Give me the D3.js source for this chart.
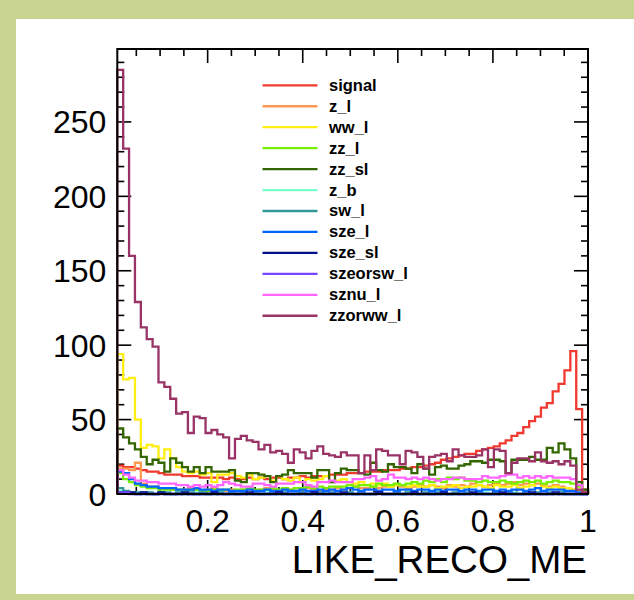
<!DOCTYPE html>
<html>
<head>
<meta charset="utf-8">
<script src="https://cdn.jsdelivr.net/npm/d3@7"></script>
<style>
  body { margin: 0; padding: 0; background: #cbd393; }
  svg { display: block; }
</style>
</head>
<body>
<svg id="chart"></svg>
<script>
// Histogram binning (80 bins from 0.01 to 1)
const xMin = 0.01, xMax = 1, nBins = 80;

// Series names (legend order = draw order)
const seriesNames = ["signal", "z_l", "ww_l", "zz_l", "zz_sl", "z_b", "sw_l", "sze_l", "sze_sl", "szeorsw_l", "sznu_l", "zzorww_l"];
const seriesColors = ["#f03a30", "#ff9950", "#ffee11", "#77ee00", "#336600", "#77ffcc", "#339999", "#0066ff", "#001188", "#7744ff", "#ff66ff", "#993366"];

// Bin contents
const signal = [19, 18, 18, 17, 16, 15, 15, 14, 13, 13, 13, 12, 12, 12, 11, 11, 11, 11, 10, 11,
  10, 10, 11, 10, 11, 10, 11, 11, 10, 11, 11, 12, 11, 12, 12, 12, 13, 13, 13, 14, 14, 14, 15, 15, 15, 16, 16, 16, 17, 17,
  18, 18, 19, 20, 21, 23, 24, 25, 26, 27, 27, 29, 30, 31, 32, 34, 36, 39, 41, 45, 49, 52, 58, 61, 69, 74, 83, 96, 57, 3];
const z_l = [17, 17, 16, 21, 7, 5, 5, 4, 4, 3, 3, 3, 4, 3, 2, 3, 4, 3, 2, 3,
  2, 3, 3, 2, 3, 4, 3, 2, 3, 3, 4, 3, 4, 3, 2, 3, 3, 4, 3, 4, 5, 4, 4, 5, 4, 5, 5, 6, 5, 4,
  5, 6, 5, 6, 5, 4, 6, 5, 6, 5, 7, 6, 5, 6, 7, 6, 7, 8, 6, 7, 6, 7, 6, 5, 6, 5, 4, 3, 2, 1];
const ww_l = [94, 77, 78, 50, 31, 33, 32, 24, 30, 24, 18, 15, 14, 15, 13, 14, 8, 13, 13, 14,
  12, 11, 13, 10, 11, 12, 9, 12, 10, 9, 11, 8, 10, 9, 10, 12, 8, 9, 10, 8, 7, 8, 6, 7, 6, 7, 5, 6, 6, 5,
  6, 5, 5, 6, 4, 5, 5, 6, 4, 5, 5, 6, 5, 4, 6, 5, 5, 6, 4, 5, 6, 4, 5, 4, 5, 4, 4, 3, 2, 1];
const zz_l = [14, 10, 8, 6, 5, 4, 4, 3, 3, 3, 3, 2, 3, 3, 2, 2, 3, 2, 3, 2,
  3, 3, 4, 3, 3, 3, 4, 3, 4, 3, 4, 4, 5, 4, 5, 4, 5, 5, 5, 6, 5, 6, 6, 5, 7, 6, 6, 7, 6, 7,
  8, 7, 9, 8, 10, 8, 11, 10, 11, 9, 9, 8, 9, 8, 8, 9, 8, 7, 8, 9, 8, 9, 7, 8, 9, 8, 8, 7, 5, 1];
const zz_sl = [44, 38, 34, 30, 25, 20, 23, 21, 15, 24, 21, 18, 15, 18, 14, 18, 15, 15, 15, 16,
  9, 8, 14, 14, 13, 12, 8, 12, 13, 16, 14, 14, 14, 11, 16, 16, 8, 14, 17, 16, 16, 14, 13, 21, 16, 15, 20, 18, 18, 17,
  14, 20, 17, 13, 18, 19, 17, 17, 19, 20, 22, 22, 21, 23, 23, 22, 14, 23, 23, 23, 25, 23, 23, 31, 28, 34, 30, 24, 8, 3];
const z_b = [2, 1, 1, 1, 0, 1, 0, 1, 0, 0, 1, 0, 0, 1, 0, 0, 0, 1, 0, 0,
  0, 1, 0, 0, 0, 1, 0, 0, 0, 0, 1, 0, 0, 0, 0, 1, 0, 0, 0, 1, 0, 0, 0, 0, 1, 0, 0, 0, 0, 1,
  0, 0, 0, 1, 0, 0, 0, 0, 1, 0, 0, 0, 1, 0, 0, 0, 0, 1, 0, 0, 0, 1, 0, 0, 0, 1, 0, 0, 0, 0];
const sw_l = [4, 2, 1, 1, 1, 1, 0, 1, 1, 0, 1, 0, 1, 0, 1, 0, 0, 1, 0, 1,
  0, 1, 0, 1, 0, 0, 1, 0, 1, 0, 0, 1, 0, 0, 1, 0, 1, 0, 0, 1, 0, 1, 0, 0, 1, 0, 0, 1, 0, 1,
  0, 0, 1, 0, 1, 0, 0, 1, 0, 1, 0, 1, 0, 0, 1, 0, 1, 0, 0, 1, 0, 1, 0, 1, 0, 1, 0, 0, 0, 0];
const sze_l = [15, 14, 10, 7, 6, 5, 5, 4, 4, 4, 3, 3, 3, 4, 3, 3, 2, 3, 3, 2,
  2, 2, 3, 2, 2, 3, 2, 2, 3, 2, 2, 3, 2, 2, 3, 2, 3, 2, 3, 4, 3, 2, 3, 3, 2, 3, 3, 2, 3, 3,
  2, 3, 3, 2, 3, 2, 3, 3, 2, 3, 3, 2, 3, 3, 2, 3, 2, 3, 3, 2, 3, 4, 2, 3, 3, 3, 2, 2, 1, 0];
const sze_sl = [1, 1, 1, 0, 1, 0, 0, 1, 0, 0, 0, 1, 0, 0, 0, 0, 1, 0, 0, 0,
  0, 0, 1, 0, 0, 0, 0, 1, 0, 0, 0, 0, 0, 1, 0, 0, 0, 0, 1, 0, 0, 0, 0, 0, 1, 0, 0, 0, 0, 0,
  1, 0, 0, 0, 0, 1, 0, 0, 0, 0, 1, 0, 0, 0, 0, 1, 0, 0, 0, 0, 1, 0, 0, 0, 1, 0, 0, 0, 0, 0];
const szeorsw_l = [1, 1, 0, 0, 0, 0, 0, 0, 0, 0, 0, 0, 0, 0, 0, 0, 0, 0, 0, 0,
  0, 0, 0, 0, 0, 0, 0, 0, 0, 0, 0, 0, 0, 0, 0, 0, 0, 0, 0, 0, 0, 0, 0, 0, 0, 0, 0, 0, 0, 0,
  0, 0, 0, 0, 0, 0, 0, 0, 0, 0, 0, 0, 0, 0, 0, 0, 0, 0, 0, 0, 0, 0, 0, 0, 0, 0, 0, 0, 0, 0];
const sznu_l = [16, 13, 11, 9, 9, 8, 8, 7, 7, 7, 6, 6, 5, 6, 5, 6, 5, 6, 8, 7,
  6, 5, 5, 7, 7, 6, 5, 7, 7, 7, 8, 8, 6, 5, 8, 8, 9, 8, 8, 8, 10, 10, 11, 12, 9, 10, 13, 11, 11, 10,
  11, 10, 11, 10, 9, 10, 10, 11, 11, 10, 10, 10, 12, 11, 11, 12, 13, 13, 11, 12, 11, 12, 11, 12, 11, 11, 11, 10, 6, 1];
const zzorww_l = [285, 232, 160, 129, 112, 104, 99, 75, 72, 64, 54, 55, 41, 52, 51, 41, 43, 40, 38, 24,
  37, 39, 36, 35, 30, 33, 28, 29, 27, 21, 30, 28, 24, 29, 32, 27, 26, 25, 28, 26, 26, 14, 26, 16, 30, 29, 26, 26, 20, 29,
  28, 25, 17, 25, 26, 27, 22, 30, 26, 25, 25, 26, 30, 18, 30, 29, 14, 21, 24, 24, 22, 28, 22, 21, 22, 20, 22, 19, 3, 1];

const seriesValues = [signal, z_l, ww_l, zz_l, zz_sl, z_b, sw_l, sze_l, sze_sl, szeorsw_l, sznu_l, zzorww_l];

// Axis tick labels
const yTickLabels = [0, 50, 100, 150, 200, 250];
const xTickLabels = [0.2, 0.4, 0.6, 0.8, 1];

const W = 634, H = 600;
const frame = {left: 117.3, right: 588, top: 49, bottom: 494};

const svg = d3.select("#chart").attr("width", W).attr("height", H);

// Canvas: green border, white pad
svg.append("rect").attr("width", W).attr("height", H).attr("fill", "#cad491");
svg.append("rect").attr("x", 16).attr("y", 19).attr("width", W - 16).attr("height", 575).attr("fill", "#ffffff");

const x = d3.scaleLinear().domain([xMin, xMax]).range([frame.left, frame.right]);
const y = d3.scaleLinear().domain([0, 299]).range([frame.bottom, frame.top]);

const binW = (xMax - xMin) / nBins;

// Ticks (inward, on all four sides)
const ticks = svg.append("g").attr("stroke", "#000").attr("stroke-width", 1.6);
d3.range(10, 300, 10).forEach(v => {
    const len = v % 50 === 0 ? 14 : 7;
    ticks.append("line").attr("x1", frame.left).attr("x2", frame.left + len).attr("y1", y(v)).attr("y2", y(v));
    ticks.append("line").attr("x1", frame.right).attr("x2", frame.right - len).attr("y1", y(v)).attr("y2", y(v));
});
d3.range(1, 20).map(i => i * 0.05).forEach(v => {
    const len = Math.abs(v / 0.2 - Math.round(v / 0.2)) < 1e-6 ? 14 : 7;
    ticks.append("line").attr("x1", x(v)).attr("x2", x(v)).attr("y1", frame.bottom).attr("y2", frame.bottom - len);
    ticks.append("line").attr("x1", x(v)).attr("x2", x(v)).attr("y1", frame.top).attr("y2", frame.top + len);
});

// Histograms as step outlines
const line = d3.line().x(d => x(d[0])).y(d => y(d[1]));
seriesValues.forEach((vals, s) => {
    const pts = [[xMin, 0]];
    vals.forEach((v, k) => {
        pts.push([xMin + k * binW, v]);
        pts.push([xMin + (k + 1) * binW, v]);
    });
    pts.push([xMax, 0]);
    svg.append("path")
        .attr("d", line(pts))
        .attr("fill", "none")
        .attr("stroke", seriesColors[s])
        .attr("stroke-width", 2.3)
        .attr("stroke-linejoin", "miter");
});

// Frame
svg.append("rect")
    .attr("x", frame.left).attr("y", frame.top)
    .attr("width", frame.right - frame.left).attr("height", frame.bottom - frame.top)
    .attr("fill", "none").attr("stroke", "#000").attr("stroke-width", 2);

// Tick labels
const font = "'Liberation Sans', Arial, Helvetica, sans-serif";
svg.append("g").selectAll("text").data(yTickLabels).join("text")
    .attr("x", frame.left - 11)
    .attr("y", d => y(d))
    .attr("dy", "0.36em")
    .attr("text-anchor", "end")
    .attr("font-family", font).attr("font-size", 32)
    .text(d => d);

svg.append("g").selectAll("text").data(xTickLabels).join("text")
    .attr("x", d => x(d))
    .attr("y", 532)
    .attr("text-anchor", "middle")
    .attr("font-family", font).attr("font-size", 32)
    .text(d => d);

svg.append("text")
    .attr("x", 587).attr("y", 573)
    .attr("text-anchor", "end")
    .attr("font-family", font).attr("font-size", 38.5)
    .text("LIKE_RECO_ME");

// Legend
const legend = svg.append("g").selectAll("g").data(seriesNames).join("g")
    .attr("transform", (d, i) => `translate(262.5,${85.3 + i * 20.95})`);
legend.append("line")
    .attr("x1", 0).attr("x2", 55)
    .attr("stroke", (d, i) => seriesColors[i]).attr("stroke-width", 2.3);
legend.append("text")
    .attr("x", 66.5).attr("dy", "0.33em")
    .attr("font-family", font).attr("font-size", 16.5).attr("font-weight", "bold")
    .text(d => d);
</script>
</body>
</html>
